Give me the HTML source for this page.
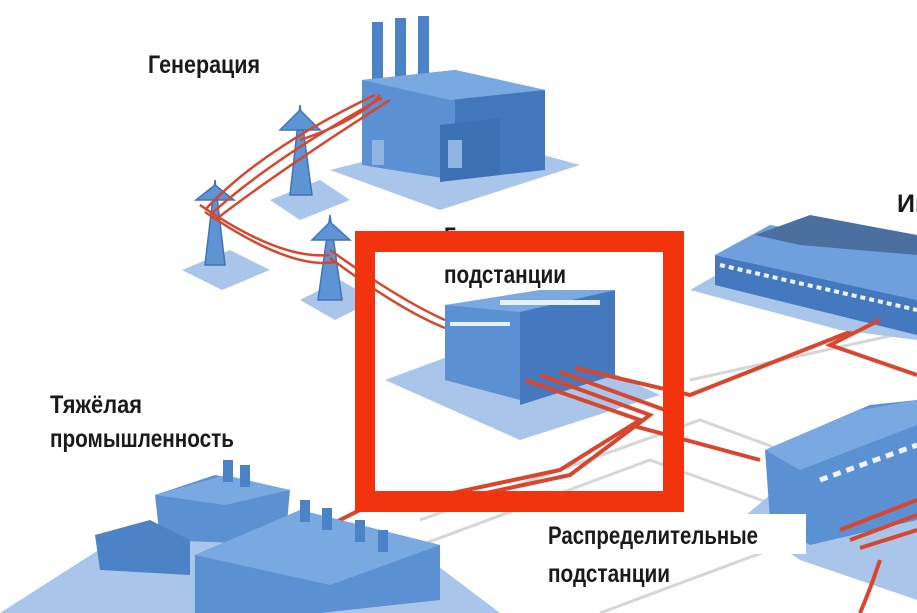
<!DOCTYPE html>
<html><head><meta charset="utf-8"><style>
html,body{margin:0;padding:0;background:#fff;}
svg{display:block}
text{font-family:"Liberation Sans Narrow","Liberation Sans",sans-serif;fill:#1a1a1a;font-weight:bold;}
</style></head><body>
<svg width="917" height="613" viewBox="0 0 917 613" xmlns="http://www.w3.org/2000/svg">
<rect width="917" height="613" fill="#fff"/>
<g stroke="#d6d6d6" stroke-width="3" fill="none">
<path d="M420 520 L700 420 L917 500"/>
<path d="M380 560 L650 460 L900 550"/>
<path d="M600 613 L850 520"/>
<path d="M690 380 L917 330"/>
</g>
<polygon points="330,170 470,135 580,165 440,210" fill="#a9c6ea"/>
<rect x="372" y="22" width="11" height="60" fill="#4c82c6"/>
<rect x="395" y="18" width="11" height="62" fill="#4c82c6"/>
<rect x="418" y="16" width="11" height="62" fill="#4c82c6"/>
<polygon points="362,80 455,70 455,180 362,165" fill="#5b90d2"/>
<polygon points="455,70 545,90 545,170 455,180" fill="#4277bd"/>
<polygon points="362,80 455,70 545,90 450,100" fill="#7aa8e0"/>
<polygon points="440,125 500,118 500,175 440,182" fill="#3d71b6"/>
<rect x="448" y="140" width="14" height="28" fill="#8fb4e2"/>
<rect x="372" y="140" width="12" height="25" fill="#8fb4e2"/>
<g fill="#5e93d4" stroke="#3f74ba" stroke-width="1.5">
<polygon points="182,270 230,250 270,270 222,290" fill="#a9c6ea" stroke="none"/>
<polygon points="215,180 205,265 225,265"/>
<polygon points="196,200 234,200 215,185"/>
<polygon points="270,200 320,180 350,200 300,220" fill="#a9c6ea" stroke="none"/>
<polygon points="300,105 290,195 312,195"/>
<polygon points="280,130 320,130 300,110"/>
<polygon points="300,300 340,280 375,300 335,320" fill="#a9c6ea" stroke="none"/>
<polygon points="330,215 318,300 342,300"/>
<polygon points="312,240 350,240 330,222"/>
</g>
<g stroke="#d8462e" stroke-width="2.5" fill="none">
<path d="M205 210 Q260 150 375 95"/>
<path d="M210 215 Q270 160 382 98"/>
<path d="M215 220 Q280 170 390 100"/>
<path d="M200 205 Q280 260 330 255"/>
<path d="M205 212 Q290 270 335 262"/>
<path d="M330 250 Q400 300 445 320"/>
<path d="M330 258 Q400 310 445 328"/>
<path d="M300 140 Q360 120 380 95"/>
</g>
<polygon points="385,380 520,330 660,395 520,440" fill="#a9c6ea"/>
<polygon points="445,305 600,290 610,370 520,400 445,380" fill="#5b90d2"/>
<polygon points="520,310 615,290 615,375 520,405" fill="#4479bf"/>
<polygon points="445,305 540,290 615,290 520,312" fill="#7aa8e0"/>
<g fill="#e8f0fa"><rect x="500" y="300" width="100" height="5"/><rect x="450" y="322" width="60" height="4"/></g>
<g stroke="#d8462e" stroke-width="4" fill="none">
<path d="M525 380 L640 420 L560 470 L420 500"/>
<path d="M540 375 L650 415 L570 475 L430 505"/>
<path d="M560 372 L665 410"/>
<path d="M575 368 L690 395 L880 320"/>
<path d="M630 425 L760 460"/>
<path d="M380 500 L300 540 L420 600"/>
</g>
<polygon points="690,290 760,250 917,280 917,340 840,330" fill="#a9c6ea"/>
<polygon points="715,255 917,300 917,335 715,285" fill="#4479bf"/>
<polygon points="715,255 770,225 917,250 917,300" fill="#6f9fdc"/>
<polygon points="755,235 810,215 917,235 917,255 800,245" fill="#4b6f9f"/>
<g stroke="#eef4fb" stroke-width="4" stroke-dasharray="5 4"><path d="M720 265 L917 310"/></g>
<g stroke="#d8462e" stroke-width="4" fill="none"><path d="M880 320 L830 345 L917 375"/></g>
<polygon points="740,520 860,420 917,430 917,600 800,560" fill="#a9c6ea"/>
<polygon points="765,450 870,405 917,400 917,520 810,545 770,520" fill="#5b90d2"/>
<polygon points="765,450 860,410 917,400 917,425 800,470" fill="#7aa8e0"/>
<g stroke="#eef4fb" stroke-width="5" stroke-dasharray="8 6"><path d="M820 480 L917 445"/></g>
<g stroke="#d8462e" stroke-width="4" fill="none">
<path d="M840 530 L917 500"/><path d="M850 540 L917 515"/><path d="M860 548 L917 530"/>
<path d="M880 560 Q870 590 860 613"/>
</g>
<polygon points="0,613 130,530 430,560 500,613" fill="#a9c6ea"/>
<polygon points="155,495 215,475 290,490 285,545 160,540" fill="#5b90d2"/>
<polygon points="155,495 225,475 290,490 225,505" fill="#7aa8e0"/>
<rect x="223" y="460" width="10" height="22" fill="#4c82c6"/>
<rect x="240" y="465" width="10" height="22" fill="#4c82c6"/>
<polygon points="95,535 150,520 190,540 190,575 100,570" fill="#4c82c6"/>
<polygon points="195,555 300,510 440,545 440,600 320,613 195,613" fill="#5b90d2"/>
<polygon points="195,555 300,510 440,545 330,585" fill="#7aa8e0"/>
<g fill="#4c82c6"><rect x="300" y="500" width="10" height="22"/><rect x="322" y="508" width="10" height="22"/><rect x="355" y="520" width="10" height="22"/><rect x="378" y="530" width="10" height="22"/></g>
<text x="444" y="245" font-size="25" textLength="90" lengthAdjust="spacingAndGlyphs">Главные</text>
<path d="M355 231 H684 V512 H355 Z M375 252 V491 H663 V252 Z" fill="#f2330e" fill-rule="evenodd"/>
<text x="148" y="73" font-size="25" textLength="112" lengthAdjust="spacingAndGlyphs">Генерация</text>
<text x="50" y="413" font-size="25" textLength="92" lengthAdjust="spacingAndGlyphs">Тяжёлая</text>
<text x="50" y="447" font-size="25" textLength="184" lengthAdjust="spacingAndGlyphs">промышленность</text>
<text x="444" y="283" font-size="25" textLength="122" lengthAdjust="spacingAndGlyphs">подстанции</text>
<rect x="543" y="514" width="263" height="40" fill="#fff"/>
<text x="548" y="544" font-size="25" textLength="210" lengthAdjust="spacingAndGlyphs">Распределительные</text>
<text x="548" y="582" font-size="25" textLength="122" lengthAdjust="spacingAndGlyphs">подстанции</text>
<text x="897" y="212" font-size="25">Ин</text>
</svg>
</body></html>
